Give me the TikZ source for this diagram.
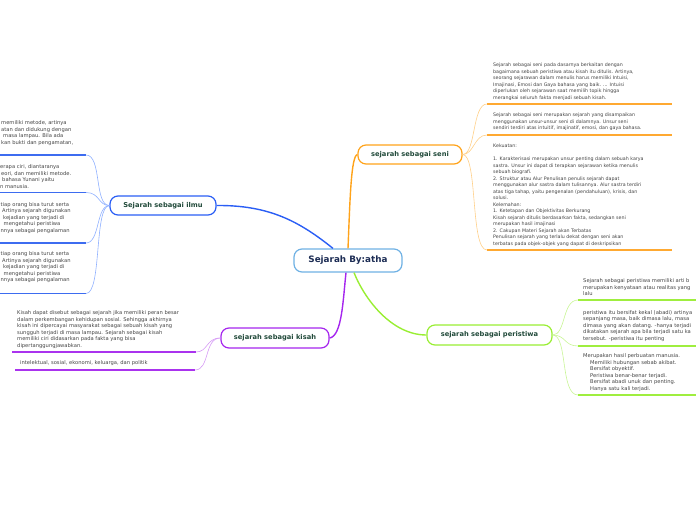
\documentclass[tikz,border=0pt]{standalone}
\usepackage{fontspec}
\setmainfont{DejaVu Sans}
\definecolor{nodetext}{HTML}{214A3A}
\definecolor{centraltext}{HTML}{1C2C54}
\definecolor{bodytext}{HTML}{444444}
\definecolor{centralc}{HTML}{6FB1E4}
\definecolor{blueA}{HTML}{2A5EF5}
\definecolor{blueB}{HTML}{3D6CF0}
\definecolor{blueC}{HTML}{8FB0FF}
\definecolor{orangeA}{HTML}{FFA31A}
\definecolor{orangeB}{HTML}{FFA931}
\definecolor{orangeC}{HTML}{FFD089}
\definecolor{greenA}{HTML}{99EE33}
\definecolor{greenB}{HTML}{9FEE3F}
\definecolor{greenC}{HTML}{C8F595}
\definecolor{purpleA}{HTML}{A526EE}
\definecolor{purpleB}{HTML}{AA33EE}
\definecolor{purpleC}{HTML}{D59AF5}
\tikzset{
  topic/.style={draw, rounded corners=8pt, line width=1.2pt, fill=white,
    font=\fontsize{6.7}{7.5}\selectfont\bfseries, text=nodetext, inner sep=0pt,
    minimum height=19pt},
  body/.style={anchor=north west, inner sep=0pt, align=left,
    font=\fontsize{5.2}{6.5}\selectfont, text=bodytext},
  smallbody/.style={body, font=\fontsize{4.75}{6.5}\selectfont},
  uline/.style={line width=1.8pt},
  twig/.style={line width=0.6pt},
  branch/.style={line width=1.4pt}
}
\begin{document}
\begin{tikzpicture}[x=1pt,y=-1pt]
\useasboundingbox (0,0) rectangle (696,520);
\clip (0,0) rectangle (696,520);

% ---------- topic nodes ----------
\node[topic, draw=centralc, minimum width=108pt, minimum height=23pt,
  font=\fontsize{8.8}{9.5}\selectfont\bfseries, text=centraltext] (c) at (348,260.5) {Sejarah By:atha};
\node[topic, draw=blueA, minimum width=106pt] (ilmu) at (163,205.5) {Sejarah sebagai ilmu};
\node[topic, draw=orangeA, minimum width=104pt] (seni) at (410,154.5) {sejarah sebagai seni};
\node[topic, draw=purpleA, minimum width=108pt, minimum height=20pt] (kisah) at (275,338) {sejarah sebagai kisah};
\node[topic, draw=greenA, minimum width=125pt, minimum height=20pt] (peri) at (489.5,335) {sejarah sebagai peristiwa};

% ---------- main branches ----------
\draw[branch, blueA] ([xshift=-15pt]c.north) .. controls (300,222) and (270,205) .. (ilmu.east);
\draw[branch, orangeA] (c.north) .. controls (350,200) and (351,156) .. (seni.west);
\draw[branch, purpleA] ([xshift=-2pt]c.south) .. controls (343,300) and (342,336) .. (kisah.east);
\draw[branch, greenA] ([xshift=6pt]c.south) .. controls (365,300) and (392,335) .. (peri.west);

% ---------- Sejarah sebagai ilmu ----------
\coordinate (i1a) at (0,155);   \coordinate (i1b) at (86,155);
\coordinate (i2a) at (0,192.5); \coordinate (i2b) at (86,192.5);
\coordinate (i3a) at (0,243);   \coordinate (i3b) at (86,243);
\coordinate (i4a) at (0,293.5); \coordinate (i4b) at (86,293.5);
\foreach \n in {1,2,3,4}{
  \draw[uline, blueB] (i\n a) -- (i\n b);
}
\draw[twig, blueC] (i1b) .. controls (102,155) and (94,205.5) .. (ilmu.west);
\draw[twig, blueC] (i2b) .. controls (100,192.5) and (98,205.5) .. (ilmu.west);
\draw[twig, blueC] (i3b) .. controls (100,243) and (96,205.5) .. (ilmu.west);
\draw[twig, blueC] (i4b) .. controls (102,293.5) and (94,205.5) .. (ilmu.west);

\node[body] (it1) at (1,120.5) {memiliki metode, artinya\\
atan dan didukung dengan\\
\hspace*{2pt}masa lampau. Bila ada\\
kan bukti dan pengamatan,};
\node[body] (it2) at (0,164.5) {erapa ciri, diantaranya\\
\hspace*{1pt}eori, dan memiliki metode.\\
\hspace*{2pt}bahasa Yunani yaitu\\
n manusia.};
\node[body] (it3) at (0.5,202) {tiap orang bisa turut serta\\
\hspace*{1.5pt}Artinya sejarah digunakan\\
\hspace*{2.5pt}kejadian yang terjadi di\\
\hspace*{3pt}mengetahui peristiwa\\
nnya sebagai pengalaman};
\node[body] (it4) at (0.5,251.8) {tiap orang bisa turut serta\\
\hspace*{1.5pt}Artinya sejarah digunakan\\
\hspace*{2.5pt}kejadian yang terjadi di\\
\hspace*{3pt}mengetahui peristiwa\\
nnya sebagai pengalaman};

% ---------- sejarah sebagai seni ----------
\coordinate (s1a) at (487,104); \coordinate (s1b) at (672,104);
\coordinate (s2a) at (487,135); \coordinate (s2b) at (672,135);
\coordinate (s3a) at (487,250); \coordinate (s3b) at (672,250);
\foreach \n in {1,2,3}{
  \draw[uline, orangeB] (s\n a) -- (s\n b);
}
\draw[twig, orangeC] (seni.east) .. controls (476,154.5) and (472,104) .. (s1a);
\draw[twig, orangeC] (seni.east) .. controls (474,154.5) and (474,135) .. (s2a);
\draw[twig, orangeC] (seni.east) .. controls (478,154.5) and (470,250) .. (s3a);

\node[smallbody] (st1) at (493,62.7) {Sejarah sebagai seni pada dasarnya berkaitan dengan\\
bagaimana sebuah peristiwa atau kisah itu ditulis. Artinya,\\
seorang sejarawan dalam menulis harus memiliki Intuisi,\\
Imajinasi, Emosi dan Gaya bahasa yang baik. ... Intuisi\\
diperlukan oleh sejarawan saat memilih topik hingga\\
merangkai seluruh fakta menjadi sebuah kisah.};
\node[smallbody] (st2) at (493,112.7) {Sejarah sebagai seni merupakan sejarah yang disampaikan\\
menggunakan unsur-unsur seni di dalamnya. Unsur seni\\
sendiri terdiri atas intuitif, imajinatif, emosi, dan gaya bahasa.};
\node[smallbody] (st3) at (493,143.7) {Kekuatan:\\
\mbox{}\\
1. Karakterisasi merupakan unsur penting dalam sebuah karya\\
sastra. Unsur ini dapat di terapkan sejarawan ketika menulis\\
sebuah biografi.\\
2. Struktur atau Alur Penulisan penulis sejarah dapat\\
menggunakan alur sastra dalam tulisannya. Alur sastra terdiri\\
atas tiga tahap, yaitu pengenalan (pendahuluan), krisis, dan\\
solusi.\\
Kelemahan:\\
1. Ketetapan dan Objektivitas Berkurang\\
Kisah sejarah ditulis berdasarkan fakta, sedangkan seni\\
merupakan hasil imajinasi\\
2. Cakupan Materi Sejarah akan Terbatas\\
Penulisan sejarah yang terlalu dekat dengan seni akan\\
terbatas pada objek-objek yang dapat di deskripsikan};

% ---------- sejarah sebagai peristiwa ----------
\coordinate (p1a) at (578,300); \coordinate (p1b) at (700,300);
\coordinate (p2a) at (578,346); \coordinate (p2b) at (700,346);
\coordinate (p3a) at (578,395); \coordinate (p3b) at (700,395);
\foreach \n in {1,2,3}{
  \draw[uline, greenB] (p\n a) -- (p\n b);
}
\draw[twig, greenC] (peri.east) .. controls (566,335) and (562,300) .. (p1a);
\draw[twig, greenC] (peri.east) .. controls (566,335) and (564,346) .. (p2a);
\draw[twig, greenC] (peri.east) .. controls (568,335) and (560,395) .. (p3a);

\node[body] (pt1) at (583,278.5) {Sejarah sebagai peristiwa memiliki arti b\\
merupakan kenyataan atau realitas yang\\
lalu};
\node[body] (pt2) at (583,310.2) {peristiwa itu bersifat kekal (abadi) artinya\\
sepanjang masa, baik dimasa lalu, masa\\
dimasa yang akan datang. -hanya terjadi\\
dikatakan sejarah apa bila terjadi satu ka\\
tersebut. -peristiwa itu penting};
\node[body] (pt3) at (583,353.5) {Merupakan hasil perbuatan manusia.\\
\hspace*{7pt}Memiliki hubungan sebab akibat.\\
\hspace*{7pt}Bersifat obyektif.\\
\hspace*{7pt}Peristiwa benar-benar terjadi.\\
\hspace*{7pt}Bersifat abadi unuk dan penting.\\
\hspace*{7pt}Hanya satu kali terjadi.};

% ---------- sejarah sebagai kisah ----------
\coordinate (k1a) at (12,352); \coordinate (k1b) at (196,352);
\coordinate (k2a) at (15,370); \coordinate (k2b) at (195,370);
\draw[uline, purpleB] (k1a) -- (k1b);
\draw[uline, purpleB] (k2a) -- (k2b);
\draw[twig, purpleC] (k1b) .. controls (208,352) and (206,338) .. (kisah.west);
\draw[twig, purpleC] (k2b) .. controls (210,370) and (204,338) .. (kisah.west);

\node[body] (kt1) at (17,310.8) {Kisah dapat disebut sebagai sejarah jika memiliki peran besar\\
dalam perkembangan kehidupan sosial. Sehingga akhirnya\\
kisah ini dipercayai masyarakat sebagai sebuah kisah yang\\
sungguh terjadi di masa lampau. Sejarah sebagai kisah\\
memiliki ciri didasarkan pada fakta yang bisa\\
dipertanggungjawabkan.};
\node[body] (kt2) at (20,360.2) {intelektual, sosial, ekonomi, keluarga, dan politik};
\end{tikzpicture}
\end{document}
